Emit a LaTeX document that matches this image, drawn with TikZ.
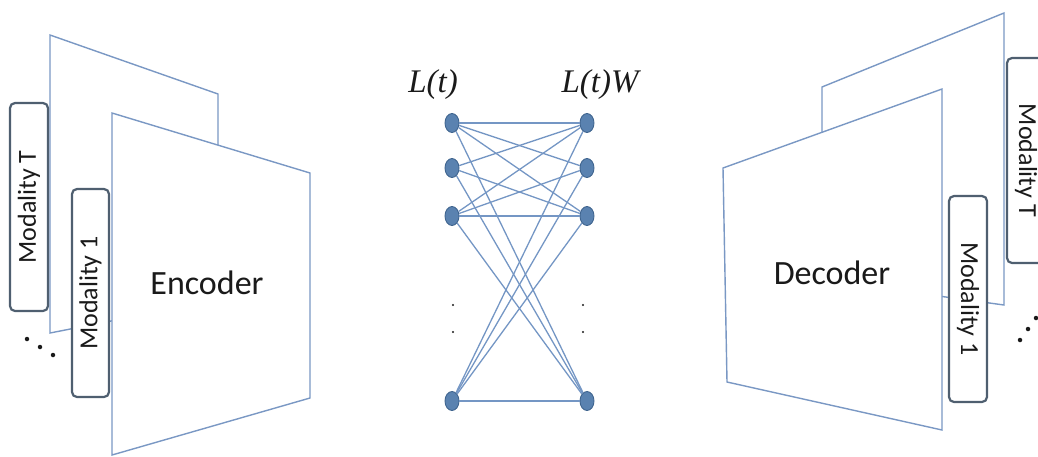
\documentclass[tikz,border=0pt]{standalone}
\usepackage{fontspec}
\setmainfont{Carlito}
\newfontfamily\lfont{Liberation Serif}
\usetikzlibrary{shapes.geometric}
\definecolor{planec}{HTML}{7A98C4}
\definecolor{boxc}{HTML}{4F5F70}
\definecolor{nodef}{HTML}{5A82B0}
\definecolor{nodeb}{HTML}{40658F}
\definecolor{edgec}{HTML}{7496C4}
\definecolor{txt}{HTML}{1A1A1A}
\begin{document}
\begin{tikzpicture}[x=1pt,y=-1pt,
 plane/.style={draw=planec, line width=1.4pt, fill=white},
 modbox/.style={draw=boxc, line width=2.2pt, fill=white, rounded corners=5pt, inner sep=0pt, font=\fontsize{26}{26}\selectfont, text=txt},
 bigtext/.style={font=\fontsize{34}{34}\selectfont, text=txt},
 lbl/.style={font=\lfont\itshape\fontsize{33}{33}\selectfont, text=txt},
 unit/.style={ellipse, fill=nodef, draw=nodeb, line width=0.9pt, minimum width=14pt, minimum height=19pt, inner sep=0pt},
 link/.style={draw=edgec, line width=1.3pt},
 bigdot/.style={circle, fill=txt, inner sep=0pt, minimum size=4.5pt},
 smalldot/.style={circle, fill=txt, inner sep=0pt, minimum size=2.2pt}]
\useasboundingbox (0,0) rectangle (1038,456);

% ---------- Encoder side ----------
\draw[plane] (50,35) -- (218,94) -- (218,300) -- (50,333) -- cycle;
\node[modbox, rotate=90, minimum width=208pt, minimum height=38pt] (mTl) at (29,207) {Modality T};
\draw[plane] (112,113) -- (310,173) -- (310,398) -- (112,455) -- cycle;
\node[modbox, rotate=90, minimum width=208pt, minimum height=37pt] (m1l) at (90.5,293) {Modality 1};
\node[bigtext] (enc) at (207,283) {Encoder};
\node[bigdot] (dl1) at (27,339) {};
\node[bigdot] (dl2) at (40,347) {};
\node[bigdot] (dl3) at (53,355) {};

% ---------- Network ----------
\node[lbl] (lt) at (433,85) {L(t)};
\node[lbl] (ltw) at (600,85) {L(t)W};
\node[unit] (L1) at (452,123) {};
\node[unit] (L2) at (452,168) {};
\node[unit] (L3) at (452,216) {};
\node[unit] (L4) at (452,401) {};
\node[unit] (R1) at (587,123) {};
\node[unit] (R2) at (587,168) {};
\node[unit] (R3) at (587,216) {};
\node[unit] (R4) at (587,401) {};
\foreach \a/\b in {L1/R1,L1/R2,L1/R3,L1/R4,L2/R1,L2/R3,L2/R4,L3/R1,L3/R2,L3/R3,L3/R4,L4/R1,L4/R2,L4/R3,L4/R4}
  \draw[link] (\a) -- (\b);
\node[smalldot] (ds1) at (453,305) {};
\node[smalldot] (ds2) at (453,332) {};
\node[smalldot] (ds3) at (583,305) {};
\node[smalldot] (ds4) at (583,332) {};

% ---------- Decoder side ----------
\draw[plane] (822,87) -- (1004,13) -- (1004,305) -- (822,280) -- cycle;
\draw[plane] (723,168) -- (942,89) -- (942,430) -- (727,382) -- cycle;
\node[modbox, rotate=-90, minimum width=206pt, minimum height=38pt] (m1r) at (968,299) {Modality 1};
\node[modbox, rotate=-90, minimum width=205pt, minimum height=38pt] (mTr) at (1026,160.5) {Modality T};
\node[bigtext] (dec) at (832,273) {Decoder};
\node[bigdot] (dr1) at (1020,340) {};
\node[bigdot] (dr2) at (1028,329) {};
\node[bigdot] (dr3) at (1036,318) {};
\end{tikzpicture}
\end{document}
